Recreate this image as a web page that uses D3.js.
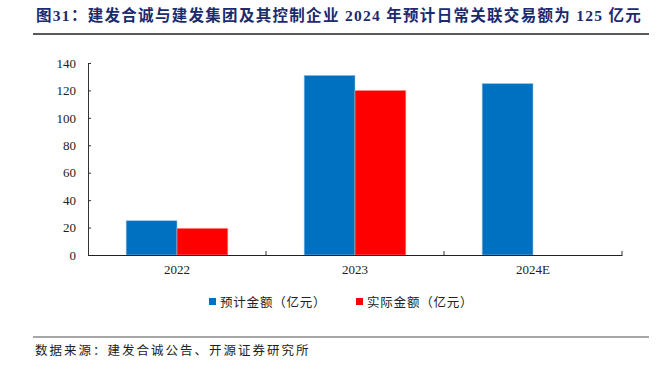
<!DOCTYPE html>
<html><head><meta charset="utf-8"><title>图31</title>
<style>
body { margin: 0; background: #fff; }
svg text { font-family: "Liberation Serif", "Noto Sans CJK SC", serif; }
</style>
<script src="https://d3js.org/d3.v7.min.js"></script>
</head>
<body>
<div id="chart"></div>
<script>
// data
const categories = ["2022", "2023", "2024E"];
const planned = [25, 131, 125];      // 预计金额（亿元）
const actual = [19.5, 120, null];    // 实际金额（亿元）
const yTicks = [0, 20, 40, 60, 80, 100, 120, 140];
const seriesNames = ["预计金额（亿元）", "实际金额（亿元）"];
const colors = ["#0070C0", "#FF0000"];

const width = 661, height = 376;
const svg = d3.select("#chart").append("svg")
    .attr("width", width).attr("height", height);

// title
svg.append("text")
    .attr("x", 36).attr("y", 21)
    .attr("fill", "#1c2a6e")
    .attr("font-size", 15.5)
    .attr("font-weight", "bold")
    .attr("letter-spacing", 1.3)
    .style("font-family", "'Liberation Serif', 'Noto Sans CJK SC', serif")
    .text("图31：建发合诚与建发集团及其控制企业 2024 年预计日常关联交易额为 125 亿元");

svg.append("line")
    .attr("x1", 33).attr("x2", 649).attr("y1", 34).attr("y2", 34)
    .attr("stroke", "#222").attr("stroke-width", 1.5);

// plot area
const plotL = 88, plotR = 622, plotT = 63, plotB = 255;

const x = d3.scaleBand().domain(categories).range([plotL, plotR]).padding(0);
const xs = d3.scaleBand().domain([0, 1]).range([0, x.bandwidth()]).paddingOuter(0.75).paddingInner(0);
const y = d3.scaleLinear().domain([0, 140]).range([plotB, plotT]);

// bars
const series = [planned, actual];
series.forEach((vals, si) => {
    svg.append("g").selectAll("rect")
        .data(categories.map((c, i) => ({c, v: vals[i]})).filter(d => d.v != null))
        .join("rect")
        .attr("x", d => x(d.c) + xs(si))
        .attr("width", xs.bandwidth())
        .attr("y", d => y(d.v))
        .attr("height", d => y(0) - y(d.v))
        .attr("fill", colors[si])
        .attr("stroke", si === 0 ? "#9cc3e6" : "#ff9c9c")
        .attr("stroke-width", 0.6);
});

// y axis
const yAxis = svg.append("g")
    .attr("transform", `translate(${plotL},0)`)
    .call(d3.axisLeft(y).tickValues(yTicks).tickSize(-3).tickPadding(12));
yAxis.select(".domain").attr("stroke", "#333");
yAxis.selectAll(".tick line").attr("stroke", "#333");
yAxis.selectAll("text").attr("font-size", 13).attr("fill", "#222")
    .style("font-family", "'Liberation Serif', serif");

// x axis
const xAxis = svg.append("g")
    .attr("transform", `translate(0,${plotB})`)
    .call(d3.axisBottom(x).tickSize(0).tickPadding(10));
xAxis.select(".domain").attr("stroke", "#222").attr("stroke-width", 1.2);
xAxis.selectAll("text").attr("font-size", 13).attr("fill", "#222")
    .style("font-family", "'Liberation Serif', serif");
// category separator ticks
xAxis.append("g").selectAll("line")
    .data(categories.slice(1).map(c => x(c)).concat([plotR]))
    .join("line")
    .attr("x1", d => d).attr("x2", d => d)
    .attr("y1", 0).attr("y2", -4)
    .attr("stroke", "#333");

// legend
const legendX = [209, 356];
seriesNames.forEach((name, i) => {
    const g = svg.append("g").attr("transform", `translate(${legendX[i]},302)`);
    g.append("rect").attr("x", 0).attr("y", -4).attr("width", 7).attr("height", 7)
        .attr("fill", colors[i]);
    g.append("text").attr("x", 11).attr("y", 4.5)
        .attr("font-size", 12.5).attr("fill", "#222")
        .attr("letter-spacing", 0.8)
        .style("font-family", "'Noto Sans CJK SC', sans-serif")
        .text(name);
});

// footer
svg.append("line")
    .attr("x1", 33).attr("x2", 649).attr("y1", 337).attr("y2", 337)
    .attr("stroke", "#888").attr("stroke-width", 1.5);
svg.append("text")
    .attr("x", 35).attr("y", 355)
    .attr("font-size", 12.5).attr("fill", "#222")
    .attr("letter-spacing", 2.0)
    .style("font-family", "'Noto Sans CJK SC', sans-serif")
    .text("数据来源：建发合诚公告、开源证券研究所");
</script>
</body></html>
